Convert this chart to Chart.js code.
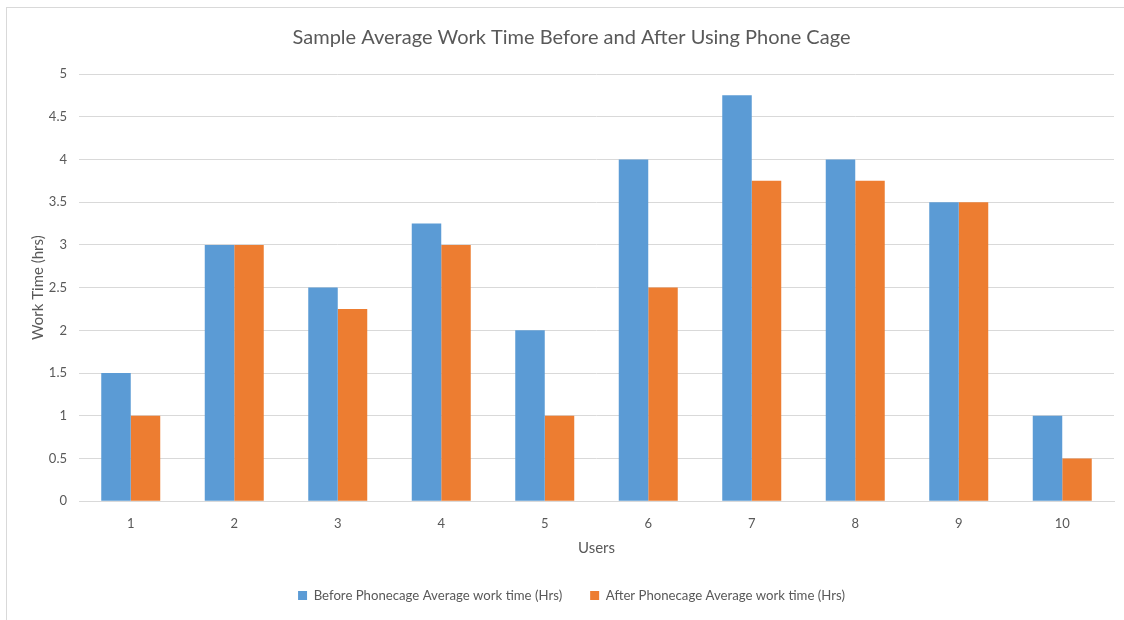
<!DOCTYPE html>
<html lang="en">
<head>
    <meta charset="UTF-8">
    <title>Sample Average Work Time</title>
    <style>
        body {
            margin: 0;
            padding: 0;
            background-color: #ffffff;
            overflow: hidden;
        }

        #frame {
            position: absolute;
            left: 6px;
            top: 7px;
            width: 1124px;
            height: 620px;
            border-left: 1px solid #d9d9d9;
            border-top: 1px solid #d9d9d9;
        }

        #wrap {
            position: absolute;
            left: 0;
            top: 0;
            width: 1124px;
            height: 620px;
        }
    </style>
</head>
<body>
    <div id="frame"></div>
    <div id="wrap">
        <canvas id="chartContainer"></canvas>
    </div>

    <script src="https://cdn.jsdelivr.net/npm/chart.js"></script>
    <script>
        // values
        const users = ['1', '2', '3', '4', '5', '6', '7', '8', '9', '10'];
        const beforeHours = [1.5, 3, 2.5, 3.25, 2, 4, 4.75, 4, 3.5, 1];
        const afterHours = [1, 3, 2.25, 3, 1, 2.5, 3.75, 3.75, 3.5, 0.5];
        const seriesNames = [
            'Before Phonecage Average work time (Hrs)',
            'After Phonecage Average work time (Hrs)'
        ];

        const textColor = '#595959';
        const gridColor = '#d9d9d9';
        const fontFamily = "Lato, 'Open Sans', sans-serif";

        const ctx = document.getElementById('chartContainer').getContext('2d');
        const chart = new Chart(ctx, {
            type: 'bar',
            data: {
                labels: users,
                datasets: [
                    {
                        label: seriesNames[0],
                        backgroundColor: '#5b9bd5',
                        data: beforeHours
                    },
                    {
                        label: seriesNames[1],
                        backgroundColor: '#ed7d31',
                        data: afterHours
                    }
                ]
            },
            options: {
                responsive: true,
                maintainAspectRatio: false,
                animation: false,
                categoryPercentage: 0.57,
                barPercentage: 1,
                layout: {
                    padding: { left: 29, right: 10, top: 18, bottom: 8 }
                },
                plugins: {
                    title: {
                        display: true,
                        text: 'Sample Average Work Time Before and After Using Phone Cage',
                        color: textColor,
                        font: { family: fontFamily, size: 20, weight: 'normal' },
                        padding: { top: 8, bottom: 24 }
                    },
                    legend: {
                        position: 'bottom',
                        labels: {
                            color: textColor,
                            font: { family: fontFamily, size: 13.2 },
                            boxWidth: 9,
                            boxHeight: 9,
                            padding: 28
                        }
                    },
                    tooltip: { enabled: false }
                },
                scales: {
                    x: {
                        grid: { display: false },
                        border: { color: gridColor },
                        ticks: {
                            color: textColor,
                            font: { family: fontFamily, size: 13 },
                            padding: 7
                        },
                        title: {
                            display: true,
                            text: 'Users',
                            color: textColor,
                            font: { family: fontFamily, size: 15 },
                            padding: { top: 0, bottom: 4 }
                        }
                    },
                    y: {
                        min: 0,
                        max: 5,
                        afterFit: function (scale) {
                            scale.width = 50;
                        },
                        grid: { color: gridColor, drawTicks: false },
                        border: { display: false },
                        ticks: {
                            stepSize: 0.5,
                            color: textColor,
                            font: { family: fontFamily, size: 13 },
                            padding: 12,
                            callback: function (value) {
                                return String(Number(value));
                            }
                        },
                        title: {
                            display: true,
                            text: 'Work Time (hrs)',
                            color: textColor,
                            font: { family: fontFamily, size: 15 },
                            padding: { top: 0, bottom: 0 }
                        }
                    }
                }
            }
        });
    </script>
</body>
</html>
